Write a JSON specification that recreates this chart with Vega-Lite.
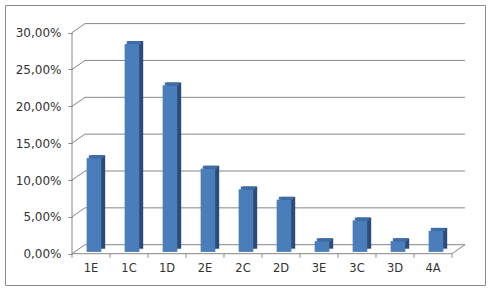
{
  "$schema": "https://vega.github.io/schema/vega-lite/v6.json",
  "width": 480,
  "height": 280,
  "autosize": "none",
  "padding": {"left": 5, "top": 5, "right": 7, "bottom": 12},
  "background": "white",
  "config": {
    "view": {"stroke": "#8c8c8c", "strokeWidth": 1},
    "font": "DejaVu Sans",
    "axis": {"grid": false, "domain": false}
  },
  "datasets": {
    "bars": [
      {"cat": "1E", "value": 0.1268},
      {"cat": "1C", "value": 0.2817},
      {"cat": "1D", "value": 0.2254},
      {"cat": "2E", "value": 0.1127},
      {"cat": "2C", "value": 0.0845},
      {"cat": "2D", "value": 0.0704},
      {"cat": "3E", "value": 0.0141},
      {"cat": "3C", "value": 0.0423},
      {"cat": "3D", "value": 0.0141},
      {"cat": "4A", "value": 0.0282}
    ],
    "ticks": [
      {"v": 0}, {"v": 0.05}, {"v": 0.1}, {"v": 0.15}, {"v": 0.2}, {"v": 0.25}, {"v": 0.3}
    ]
  },
  "layer": [
    {
      "data": {"name": "bars"},
      "mark": {"type": "bar", "color": "#4A7EBB", "xOffset": 3, "x2Offset": 3, "yOffset": -2, "y2Offset": -2},
      "encoding": {
        "x": {
          "field": "cat", "type": "nominal",
          "scale": {"domain": ["1E", "1C", "1D", "2E", "2C", "2D", "3E", "3C", "3D", "4A"], "range": [67, 447], "paddingInner": 0.621, "paddingOuter": 0.3105, "align": 0.5},
          "axis": {"orient": "bottom", "offset": -31, "domain": false, "ticks": false, "tickSize": 0, "grid": false, "labelAngle": 0, "labelPadding": 8, "labelFontSize": 11.5, "labelColor": "#333333", "title": null}
        },
        "y": {
          "field": "value", "type": "quantitative",
          "scale": {"domain": [-0.04247, 0.33745], "nice": false, "zero": false},
          "axis": {"orient": "left", "offset": -67, "values": [0, 0.05, 0.1, 0.15, 0.2, 0.25, 0.3], "labelExpr": "replace(format(datum.value, '.2%'), '.', ',')", "domain": false, "grid": false, "ticks": true, "tickSize": 4, "tickColor": "#868686", "labelPadding": 7, "labelFontSize": 12, "labelColor": "#333333", "title": null}
        }
      }
    },
    {
      "data": {"name": "ticks"},
      "mark": {"type": "rule", "color": "#868686", "strokeWidth": 1, "xOffset": 13, "x2Offset": 13, "yOffset": -9, "y2Offset": -9},
      "encoding": {
        "y": {"field": "v", "type": "quantitative"},
        "x": {"datum": "1E", "type": "nominal", "bandPosition": -0.819},
        "x2": {"datum": "4A", "bandPosition": 1.819}
      }
    },
    {
      "data": {"name": "ticks"},
      "mark": {"type": "rule", "color": "#868686", "strokeWidth": 1, "x2Offset": 13, "y2Offset": -9},
      "encoding": {
        "y": {"field": "v", "type": "quantitative"},
        "y2": {"field": "v"},
        "x": {"datum": "1E", "type": "nominal", "bandPosition": -0.819},
        "x2": {"datum": "1E", "bandPosition": -0.819}
      }
    },
    {
      "data": {"values": [{"v": 0}]},
      "mark": {"type": "rule", "color": "#868686", "strokeWidth": 1, "x2Offset": 13, "y2Offset": -9},
      "encoding": {
        "y": {"field": "v", "type": "quantitative"},
        "y2": {"field": "v"},
        "x": {"datum": "4A", "type": "nominal", "bandPosition": 1.819},
        "x2": {"datum": "4A", "bandPosition": 1.819}
      }
    },
    {
      "data": {"name": "bars"},
      "mark": {"type": "bar", "color": "#2B4C78", "xOffset": 7, "x2Offset": 7, "yOffset": -5, "y2Offset": -5},
      "encoding": {
        "x": {"field": "cat", "type": "nominal"},
        "y": {"field": "value", "type": "quantitative"}
      }
    },
    {
      "data": {"name": "bars"},
      "mark": {"type": "bar", "color": "#3E6DA8", "xOffset": 5, "x2Offset": 5, "yOffset": -5, "y2Offset": -2},
      "encoding": {
        "x": {"field": "cat", "type": "nominal"},
        "y": {"field": "value", "type": "quantitative"},
        "y2": {"field": "value"}
      }
    },
    {
      "data": {"name": "bars"},
      "mark": {"type": "bar", "color": "#4A7EBB", "xOffset": 3, "x2Offset": 3, "yOffset": -2, "y2Offset": -2},
      "encoding": {
        "x": {"field": "cat", "type": "nominal"},
        "y": {"field": "value", "type": "quantitative"}
      }
    },
    {
      "data": {"name": "ticks"},
      "transform": [{"filter": "datum.v == 0"}],
      "mark": {"type": "rule", "color": "#868686", "strokeWidth": 1},
      "encoding": {
        "y": {"field": "v", "type": "quantitative"},
        "x": {"datum": "1E", "type": "nominal", "bandPosition": -0.819},
        "x2": {"datum": "4A", "bandPosition": 1.819}
      }
    },
    {
      "data": {"values": [{"lo": 0, "hi": 0.3}]},
      "mark": {"type": "rule", "color": "#868686", "strokeWidth": 1, "yOffset": 4},
      "encoding": {
        "y": {"field": "lo", "type": "quantitative"},
        "y2": {"field": "hi"},
        "x": {"datum": "1E", "type": "nominal", "bandPosition": -0.819}
      }
    },
    {
      "data": {"name": "bars"},
      "mark": {"type": "rule", "color": "#868686", "strokeWidth": 1, "y2Offset": 4},
      "encoding": {
        "x": {"field": "cat", "type": "nominal", "bandPosition": 1.819},
        "y": {"datum": 0, "type": "quantitative"},
        "y2": {"datum": 0}
      }
    }
  ]
}
